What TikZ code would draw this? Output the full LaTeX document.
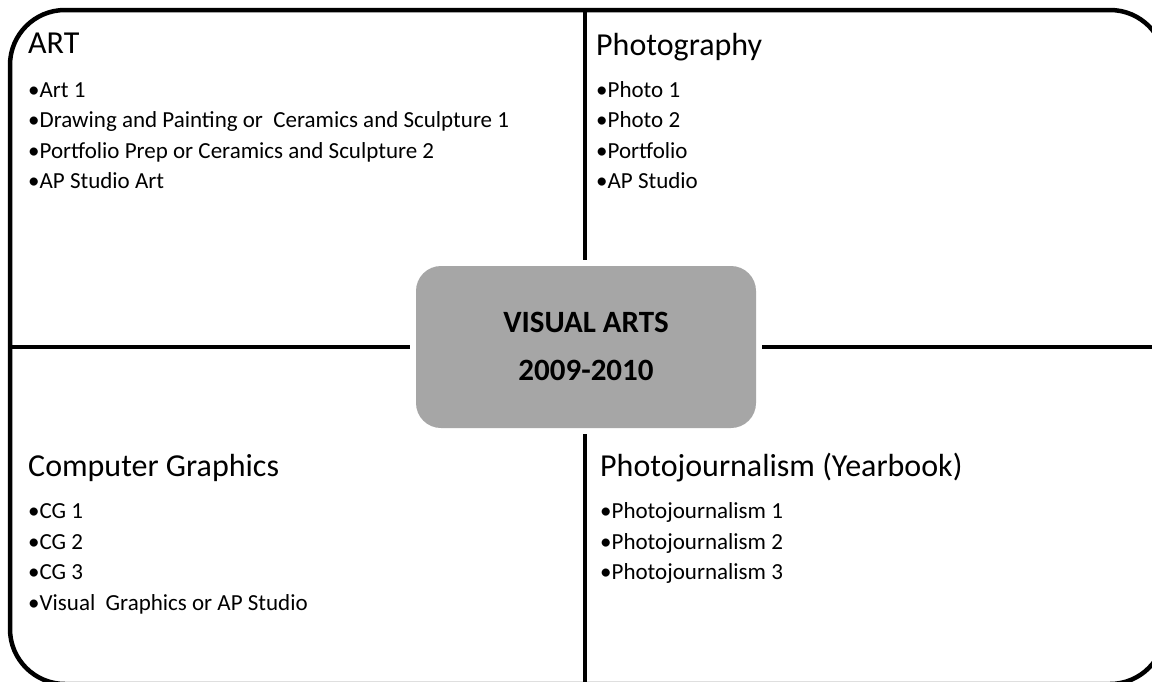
\documentclass[tikz,border=0pt]{standalone}
\usepackage{fontspec}
\setmainfont{Carlito}
\definecolor{boxgray}{RGB}{166,166,166}
\begin{document}
\begin{tikzpicture}[x=1pt,y=-1pt,
  frame/.style={line width=4.5pt, black},
  head/.style={anchor=base west, inner sep=0pt, font=\fontsize{32}{34}\selectfont},
  item/.style={anchor=base west, inner sep=0pt, font=\fontsize{23}{26}\selectfont},
  centerbox/.style={fill=boxgray, draw=none, rounded corners=25pt, minimum width=340pt, minimum height=162pt, inner sep=0pt},
  centertext/.style={anchor=base, inner sep=0pt, font=\fontsize{31}{34}\selectfont\bfseries}]
\useasboundingbox (0,0) rectangle (1152,681);
\clip (0,0) rectangle (1152,681);
\fill[white] (0,0) rectangle (1152,681);
% outer frame
\draw[frame, rounded corners=55pt] (10,10) rectangle (1165,684);
% center box
\node[centerbox] (center) at (586,347) {};
\node[centertext] (title) at (586,332) {VISUAL ARTS};
\node[centertext] (years) at (586,380) {2009-2010};
% dividers
\coordinate (vtop) at (585,10);
\coordinate (vbot) at (585,690);
\coordinate (hleft) at (10,347);
\coordinate (hright) at (1165,347);
\draw[frame] (vtop) -- (585,260);
\draw[frame] (585,434) -- (vbot);
\draw[frame] (hleft) -- (410,347);
\draw[frame] (762,347) -- (hright);
% ART
\node[head] (art) at (28,53) {ART};
\node[item] (art1) at (28,97) {•Art 1};
\node[item] (art2) at (28,127.5) {•Drawing and Painting or\ \ Ceramics and Sculpture 1};
\node[item] (art3) at (28,158) {•Portfolio Prep or Ceramics and Sculpture 2};
\node[item] (art4) at (28,188) {•AP Studio Art};
% Photography
\node[head] (photo) at (596,55) {Photography};
\node[item] (ph1) at (596,97) {•Photo 1};
\node[item] (ph2) at (596,127.5) {•Photo 2};
\node[item] (ph3) at (596,158) {•Portfolio};
\node[item] (ph4) at (596,188) {•AP Studio};
% Computer Graphics
\node[head] (cg) at (28,476) {Computer Graphics};
\node[item] (cg1) at (28,518) {•CG 1};
\node[item] (cg2) at (28,549) {•CG 2};
\node[item] (cg3) at (28,579.5) {•CG 3};
\node[item] (cg4) at (28,610) {•Visual\ \ Graphics or AP Studio};
% Photojournalism
\node[head] (pj) at (600,476) {Photojournalism (Yearbook)};
\node[item] (pj1) at (600,518) {•Photojournalism 1};
\node[item] (pj2) at (600,549) {•Photojournalism 2};
\node[item] (pj3) at (600,579.5) {•Photojournalism 3};
\end{tikzpicture}
\end{document}
